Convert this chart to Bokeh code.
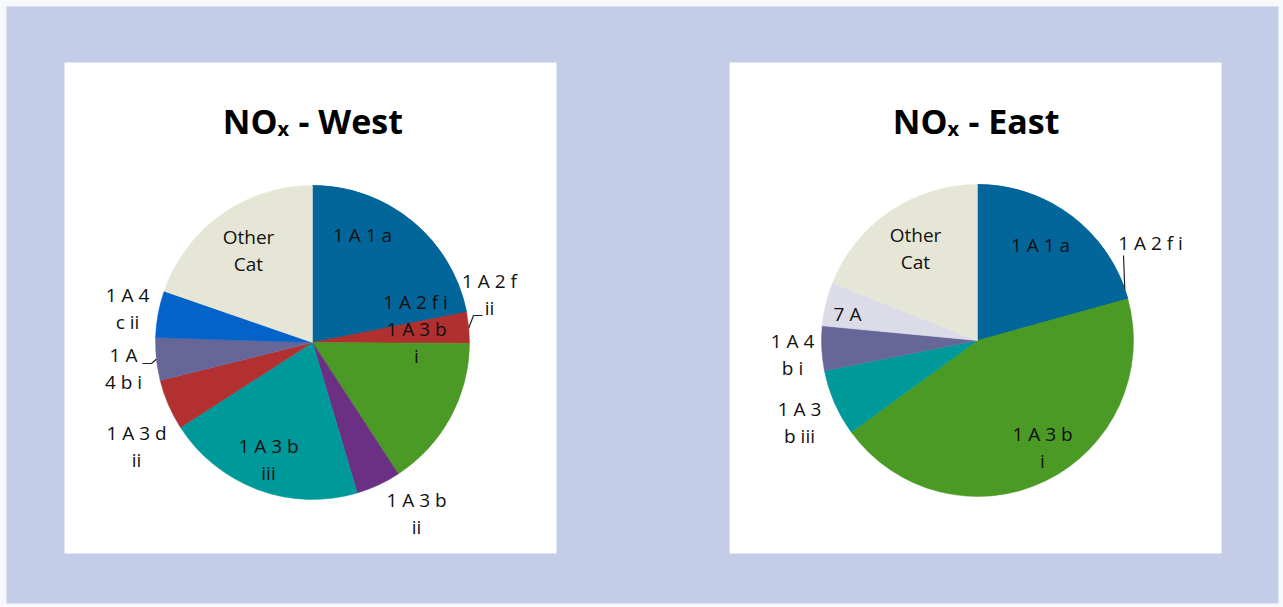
import math
from bokeh.plotting import figure
from bokeh.models import ColumnDataSource
from bokeh.core.properties import value
from bokeh.embed import file_html
from bokeh.resources import INLINE

# ---------------- data ----------------
west_categories = ["1A1a", "1A2fi", "1A2fii", "1A3bi", "1A3bii", "1A3biii", "1A3dii", "1A4bi", "1A4cii", "Other Cat"]
west_labels = ["1 A 1 a", "1 A 2 f i", "1 A 2 f\nii", "1 A 3 b\ni", "1 A 3 b\nii", "1 A 3 b\niii",
               "1 A 3 d\nii", "1 A\n4 b i", "1 A 4\nc ii", "Other\nCat"]
west_values = [15.8, 6.1, 3.2, 15.7, 4.6, 20.5, 5.2, 4.4, 4.8, 19.7]

east_categories = ["1A1a", "1A2fi", "1A3bi", "1A3biii", "1A4bi", "7A", "Other Cat"]
east_labels = ["1 A 1 a", "1 A 2 f i", "1 A 3 b\ni", "1 A 3\nb iii", "1 A 4\nb i", "7 A", "Other\nCat"]
east_values = [18.6, 2.1, 44.3, 6.9, 4.6, 4.5, 19.0]

# ---------------- styles / layout ----------------
W, H = 1283, 607
COLORS = {
    "1A1a": "#03669a", "1A2fi": "#03669a", "1A2fii": "#b0302f", "1A3bi": "#4a9a25",
    "1A3bii": "#6b2f83", "1A3biii": "#00999a", "1A3dii": "#b23030", "1A4bi": "#676699",
    "1A4cii": "#0463c8", "7A": "#dcdce8", "Other Cat": "#e6e6d6",
}
FONT = value("Open Sans")

# label block centres relative to pie centre (pixels, y down)
west_label_off = [(50, -108), (103, -41), (177, -48), (104, 0), (104, 171), (-44, 117),
                  (-176, 104), (-189, 26), (-185, -34), (-64, -92)]
east_label_off = [(63, -96), (173, -98), (65, 107), (-178, 82), (-185, 14), (-130, -27), (-62, -92)]

# leader lines: slice index -> points relative to label centre (then ends at pie edge)
west_leaders = {2: [(-7, 21), (-16, 21)], 7: [(19, -5), (28, -5)]}
east_leaders = {1: [(-27, 13)]}

p = figure(width=W, height=H, x_range=(0, W), y_range=(0, H), output_backend="svg",
           toolbar_location=None, min_border=0, x_axis_location=None, y_axis_location=None,
           background_fill_color="#f6f8fb", border_fill_color="#f6f8fb", outline_line_color=None)
p.grid.grid_line_color = None

def Y(y):
    return H - y

# page background and panels
p.quad(left=[6], right=[1278], top=[Y(6)], bottom=[Y(603)], fill_color="#c3cde8", line_color=None)
p.quad(left=[64, 729], right=[556, 1221], top=[Y(62), Y(62)], bottom=[Y(553), Y(553)],
       fill_color="white", line_color=None)


def draw_pie(cx, cy, r, cats, labels, vals, offs, leaders):
    total = sum(vals)
    cum = 0.0
    a0s, a1s, cols, mids = [], [], [], []
    for c, v in zip(cats, vals):
        a0 = cum / total * 2 * math.pi
        cum += v
        a1 = cum / total * 2 * math.pi
        a0s.append(a0)
        a1s.append(a1)
        mids.append((a0 + a1) / 2)
        cols.append(COLORS[c])
    # underlay for runs of same-coloured neighbouring slices (avoids seams)
    i = 0
    while i < len(cols):
        j = i
        while j + 1 < len(cols) and cols[j + 1] == cols[i]:
            j += 1
        if j > i:
            p.wedge(x=cx, y=Y(cy), radius=r, start_angle=math.pi / 2 - a0s[i],
                    end_angle=math.pi / 2 - a1s[j], direction="clock",
                    fill_color=cols[i], line_color=cols[i], line_width=0.5)
        i = j + 1
    src = ColumnDataSource(dict(start=[math.pi / 2 - a for a in a0s], end=[math.pi / 2 - a for a in a1s],
                                color=cols, cat=cats, val=vals))
    p.wedge(x=cx, y=Y(cy), radius=r, start_angle="start", end_angle="end", direction="clock",
            fill_color="color", line_color="color", line_width=0.5, source=src)
    lx = [cx + dx for dx, dy in offs]
    ly = [Y(cy + dy) for dx, dy in offs]
    p.text(x=lx, y=ly, text=labels, text_font=FONT, text_font_size="19px",
           text_align="center", text_baseline="middle", text_line_height=1.03,
           text_color="#111111")
    for k, pts in leaders.items():
        bx, by = cx + offs[k][0], cy + offs[k][1]
        xs = [bx + px for px, py in pts]
        ys = [by + py for px, py in pts]
        xs.append(cx + r * math.sin(mids[k]))
        ys.append(cy - r * math.cos(mids[k]))
        p.line(x=xs, y=[Y(v) for v in ys], line_color="#222222", line_width=1.2)


draw_pie(312, 342, 157, west_categories, west_labels, west_values, west_label_off, west_leaders)
draw_pie(977, 340, 156, east_categories, east_labels, east_values, east_label_off, east_leaders)


def draw_title(x_anchor, sub_gap, rest):
    p.text(x=[x_anchor], y=[Y(120)], text=["NO"], text_font=FONT, text_font_style="bold",
           text_font_size="34px", text_align="right", text_baseline="alphabetic", text_color="#000000")
    p.text(x=[x_anchor], y=[Y(128)], text=["x"], text_font=FONT, text_font_style="bold",
           text_font_size="20px", text_align="left", text_baseline="alphabetic", text_color="#000000")
    p.text(x=[x_anchor + sub_gap], y=[Y(120)], text=[rest], text_font=FONT, text_font_style="bold",
           text_font_size="34px", text_align="left", text_baseline="alphabetic", text_color="#000000")


draw_title(277, 21, "- West")
draw_title(947, 21, "- East")

open("out.html", "w").write(file_html(p, INLINE))
